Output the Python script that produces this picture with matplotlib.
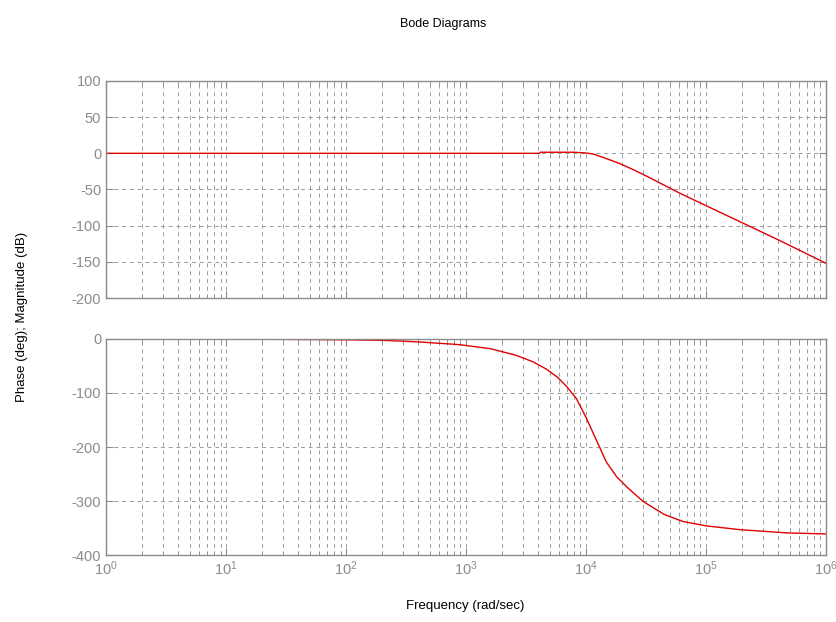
import numpy as np
import matplotlib
matplotlib.use("Agg")
import matplotlib.pyplot as plt
from matplotlib.ticker import LogLocator, MultipleLocator, NullFormatter

plt.rcParams['font.family'] = ['Liberation Sans', 'DejaVu Sans']
plt.rcParams['mathtext.default'] = 'regular'
plt.rcParams['axes.unicode_minus'] = False

# values
mag_freq = [1, 10, 100, 1000, 4100, 4170, 7900, 10000, 11500, 14100,
            19000, 25100, 32400, 60300, 114800, 218800, 416900, 1000000]
mag_db = [0, 0, 0, 0, 0, 1.5, 1.5, 0.5, -1, -6, -14, -23, -32, -55, -77,
          -99, -121, -152]

phase_freq = [1, 10, 100, 200, 300, 440, 600, 830, 1000, 1600, 2600, 3600,
              4700, 5800, 6900, 8300, 10000, 12600, 14800, 18000, 21900,
              30000, 45000, 64500, 100000, 190000, 470000, 1000000]
phase_deg = [0, 0, -1.5, -2.5, -4, -6, -8, -10, -12, -18, -30, -42, -56,
             -71, -88, -110, -145, -194, -228, -255, -274, -301, -325, -338,
             -346, -353, -359, -361]

gray = '#8c8c8c'
grid_gray = '#9a9a9a'

fig = plt.figure(figsize=(8.36, 6.22), dpi=100)
ax1 = fig.add_axes([0.1268, 0.5209, 0.8612, 0.3489])
ax2 = fig.add_axes([0.1268, 0.1077, 0.8612, 0.3473])

ax1.semilogx(mag_freq, mag_db, color='#e00000', lw=1.0)
ax2.semilogx(phase_freq, phase_deg, color='#e00000', lw=1.0)

ax1.set_ylim(-200, 100)
ax1.yaxis.set_major_locator(MultipleLocator(50))
ax2.set_ylim(-400, 0)
ax2.yaxis.set_major_locator(MultipleLocator(100))

for ax in (ax1, ax2):
    ax.set_xlim(1, 1e6)
    ax.xaxis.set_major_locator(LogLocator(base=10, numticks=10))
    ax.xaxis.set_minor_locator(LogLocator(base=10, subs=np.arange(2, 10), numticks=100))
    ax.xaxis.set_minor_formatter(NullFormatter())
    ax.grid(True, which='both', axis='x', color=grid_gray, ls=(0, (4, 4)), lw=0.7)
    ax.grid(True, which='major', axis='y', color=grid_gray, ls=(0, (4, 4)), lw=0.7)
    ax.tick_params(which='both', direction='in', top=True, right=True,
                   colors=gray, labelsize=10.5, labelcolor=gray)
    ax.tick_params(which='major', length=5)
    ax.tick_params(which='minor', length=3)
    for s in ax.spines.values():
        s.set_color(gray)
        s.set_linewidth(1.0)

ax1.tick_params(labelbottom=False)

fig.text(0.53, 0.962, 'Bode Diagrams', ha='center', va='center', fontsize=9)
fig.text(0.557, 0.026, 'Frequency (rad/sec)', ha='center', va='center', fontsize=9.5)
fig.text(0.026, 0.49, 'Phase (deg); Magnitude (dB)', ha='center', va='center',
         rotation=90, fontsize=9.5)

fig.savefig('out.png', dpi=100)
